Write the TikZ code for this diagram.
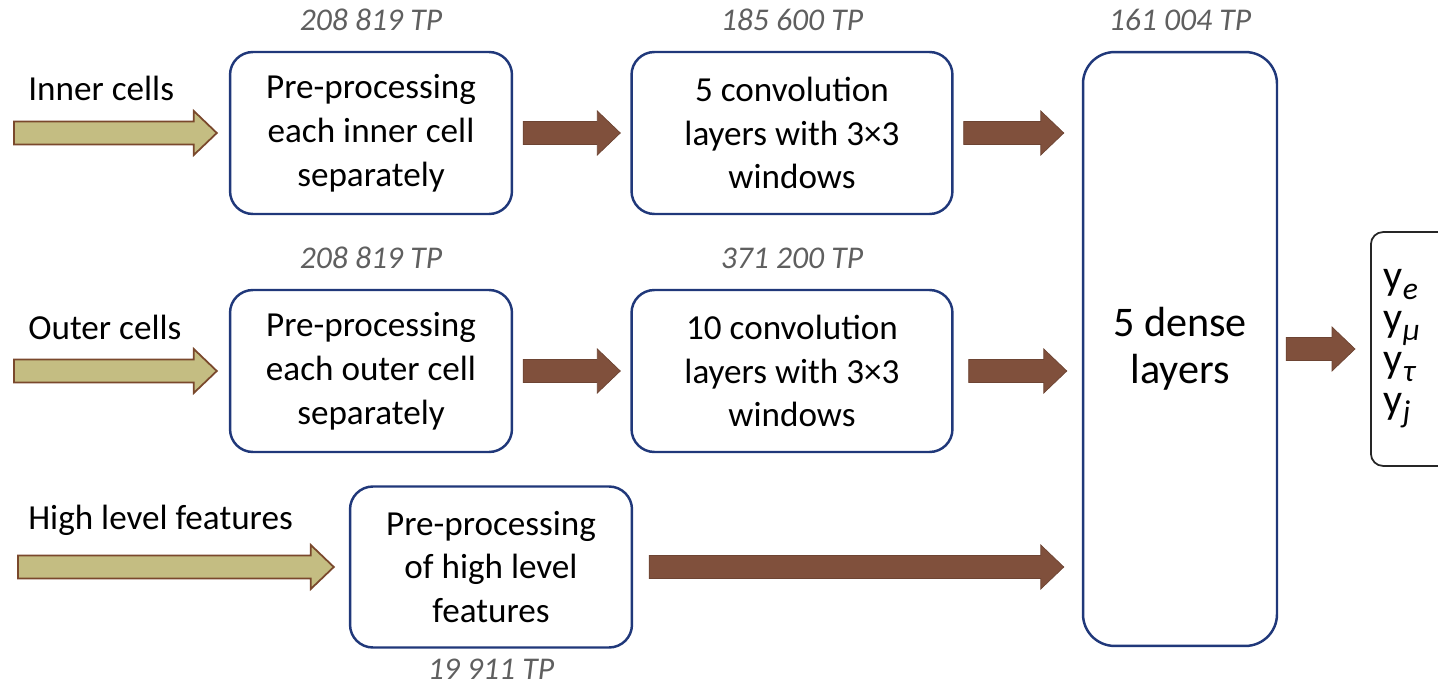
\documentclass[tikz,border=0pt]{standalone}
\usepackage{fontspec}
\setmainfont{Carlito}
\usetikzlibrary{positioning,calc}

\definecolor{boxblue}{RGB}{32,56,122}
\definecolor{khaki}{RGB}{196,189,130}
\definecolor{khakiedge}{RGB}{122,72,44}
\definecolor{brownarr}{RGB}{128,80,60}
\definecolor{tpgray}{RGB}{95,95,95}

\tikzset{
  stage/.style={draw=boxblue, line width=1.4pt, rounded corners=13pt, align=center,
    font=\fontsize{20}{25}\selectfont, inner sep=0pt},
  tp/.style={font=\fontsize{18}{20}\selectfont\itshape, text=tpgray, inner sep=0pt},
  inlabel/.style={font=\fontsize{20}{24}\selectfont, anchor=base west, inner sep=0pt},
  inarrow/.style={fill=khaki, draw=khakiedge, line width=1pt},
  outarrow/.style={fill=brownarr, draw=brownarr!85!black, line width=0.4pt},
}

% output label with italic subscript
\newcommand{\ysub}[1]{y\raisebox{-0.22em}{\fontsize{18}{18}\selectfont\itshape #1}}

% block arrow: #1 style, #2 tail, #3 tip
\newcommand{\blockarrow}[3]{%
  \path[#1] let \p1=(#2), \p2=(#3) in
    (\x1,{\y1+0.23cm}) -- ({\x2-0.46cm},{\y1+0.23cm}) -- ({\x2-0.46cm},{\y1+0.44cm})
    -- (\x2,\y1) -- ({\x2-0.46cm},{\y1-0.44cm}) -- ({\x2-0.46cm},{\y1-0.23cm})
    -- (\x1,{\y1-0.23cm}) -- cycle;}

\begin{document}
\begin{tikzpicture}[x=0.02cm, y=-0.02cm]
    \useasboundingbox (0,0) rectangle (1438,686);

    % processing boxes
    \node[stage, minimum width=5.64cm, minimum height=3.24cm] (pre1) at (371,133)
        {Pre-processing\\each inner cell\\separately};
    \node[stage, minimum width=6.42cm, minimum height=3.24cm] (conv1) at (792,133)
        {5 convolution\\layers with 3\texttimes3\\windows};
    \node[stage, minimum width=5.64cm, minimum height=3.24cm] (pre2) at (371,371)
        {Pre-processing\\each outer cell\\separately};
    \node[stage, minimum width=6.42cm, minimum height=3.24cm] (conv2) at (792,371)
        {10 convolution\\layers with 3\texttimes3\\windows};
    \node[stage, minimum width=5.64cm, minimum height=3.22cm] (pre3) at (491,567)
        {Pre-processing\\of high level\\features};
    \node[stage, rounded corners=18pt, minimum width=3.88cm, minimum height=11.88cm,
        font=\fontsize{24}{27}\selectfont] (dense) at (1180,349)
        {5 dense\\layers};
    \node[draw=black!85, line width=1pt, rounded corners=7pt, anchor=west, minimum height=4.68cm,
        text width=1.3cm, inner xsep=0.26cm, align=left, font=\fontsize{24}{23.5}\selectfont]
        (out) at (1370,349) {\ysub{e}\\\ysub{μ}\\\ysub{τ}\\\ysub{j}};

    % parameter counts
    \node[tp, above=0.4cm of pre1] (tp1) {208 819 TP};
    \node[tp, above=0.4cm of conv1] (tp2) {185 600 TP};
    \node[tp, above=0.4cm of dense] (tp3) {161 004 TP};
    \node[tp, above=0.4cm of pre2] (tp4) {208 819 TP};
    \node[tp, above=0.4cm of conv2] (tp5) {371 200 TP};
    \node[tp, below=0.2cm of pre3] (tp6) {19 911 TP};

    % inputs
    \node[inlabel] (lin) at (28,101) {Inner cells};
    \node[inlabel] (lout) at (28,339) {Outer cells};
    \node[inlabel] (lhigh) at (28,529) {High level features};
    \coordinate (s1) at (14,133);
    \coordinate (s2) at (14,371);
    \coordinate (s3) at (18,567);

    \blockarrow{inarrow}{s1}{$(pre1.west)+(-12,0)$}
    \blockarrow{inarrow}{s2}{$(pre2.west)+(-12,0)$}
    \blockarrow{inarrow}{s3}{$(pre3.west)+(-15,0)$}

    % between stages
    \blockarrow{outarrow}{$(pre1.east)+(10,0)$}{$(conv1.west)+(-10,0)$}
    \blockarrow{outarrow}{$(pre2.east)+(10,0)$}{$(conv2.west)+(-10,0)$}
    \blockarrow{outarrow}{$(conv1.east)+(10,0)$}{$(conv1.east -| dense.west)+(-18,0)$}
    \blockarrow{outarrow}{$(conv2.east)+(15,0)$}{$(conv2.east -| dense.west)+(-15,0)$}
    \blockarrow{outarrow}{$(pre3.east)+(16,0)$}{$(pre3.east -| dense.west)+(-18,0)$}
    \blockarrow{outarrow}{$(dense.east)+(8,0)$}{$(out.west)+(-15,0)$}
\end{tikzpicture}
\end{document}
